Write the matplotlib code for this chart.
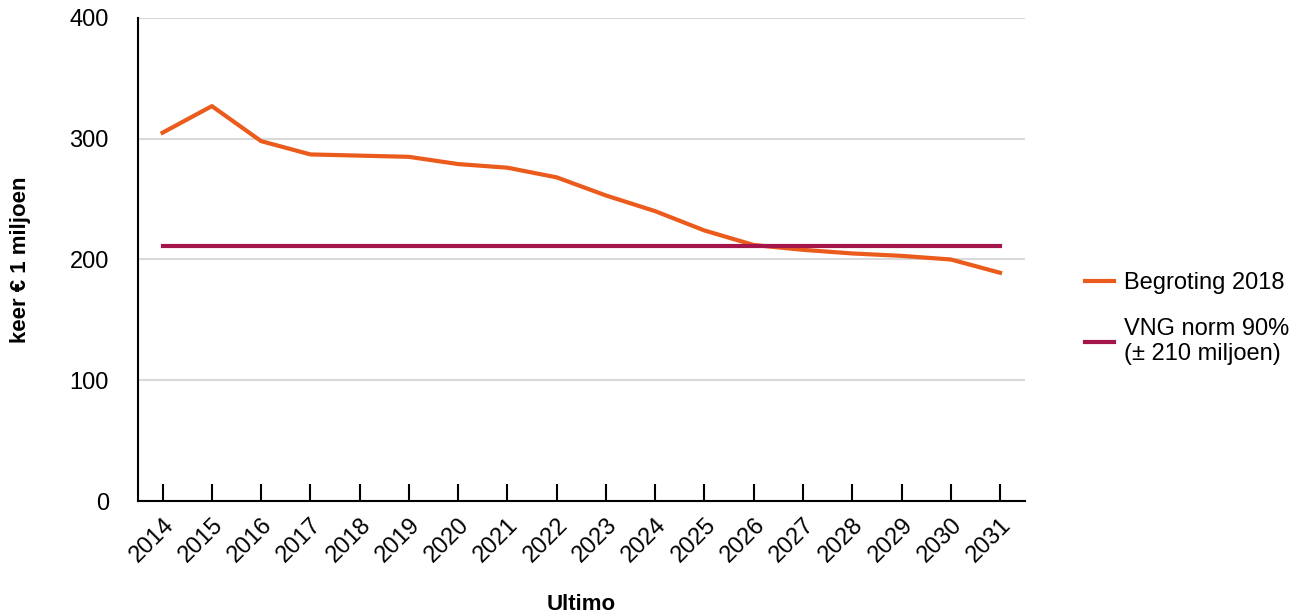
import numpy as np
import matplotlib
matplotlib.use("Agg")
import matplotlib.pyplot as plt

plt.rcParams['font.family'] = ['Liberation Sans', 'DejaVu Sans']

years = ["2014", "2015", "2016", "2017", "2018", "2019", "2020", "2021", "2022",
         "2023", "2024", "2025", "2026", "2027", "2028", "2029", "2030", "2031"]
begroting = [305, 327, 298, 287, 286, 285, 279, 276, 268,
             253, 240, 224, 212, 208, 205, 203, 200, 189]
vng_norm = [211] * len(years)

orange = "#EA5B1C"
purple = "#A3154B"

fig = plt.figure(figsize=(13.04, 6.13), dpi=100)
ax = fig.add_axes([0.1058, 0.1827, 0.680, 0.788])

x = np.arange(len(years))
ax.plot(x, begroting, color=orange, lw=3, label="Begroting 2018", zorder=3)
ax.plot(x, vng_norm, color=purple, lw=3, label="VNG norm 90%\n(± 210 miljoen)", zorder=3)

ax.set_xlim(-0.5, len(years) - 0.5)
ax.set_ylim(0, 400)
ax.set_yticks([0, 100, 200, 300, 400])
ax.set_xticks(x)
ax.set_xticklabels(years, rotation=45, ha="right", rotation_mode="anchor")

ax.grid(axis="y", color="#d9d9d9", lw=1.5)
ax.set_axisbelow(True)
for s in ["top", "right"]:
    ax.spines[s].set_visible(False)
ax.spines["left"].set_linewidth(1.5)
ax.spines["bottom"].set_linewidth(1.5)

ax.tick_params(axis="y", length=0, pad=21, labelsize=17)
ax.tick_params(axis="x", direction="in", length=12, width=1.5, pad=9, labelsize=17)

ax.set_ylabel("keer € 1 miljoen", fontsize=16, fontweight="bold", labelpad=28)
ax.set_xlabel("Ultimo", fontsize=16, fontweight="bold", labelpad=20)

leg = ax.legend(loc="upper left", bbox_to_anchor=(1.068, 0.474), frameon=False,
                borderpad=0, borderaxespad=0,
                fontsize=17, handlelength=1.25, handletextpad=0.42, labelspacing=1.0)

fig.savefig("out.png", dpi=100)
